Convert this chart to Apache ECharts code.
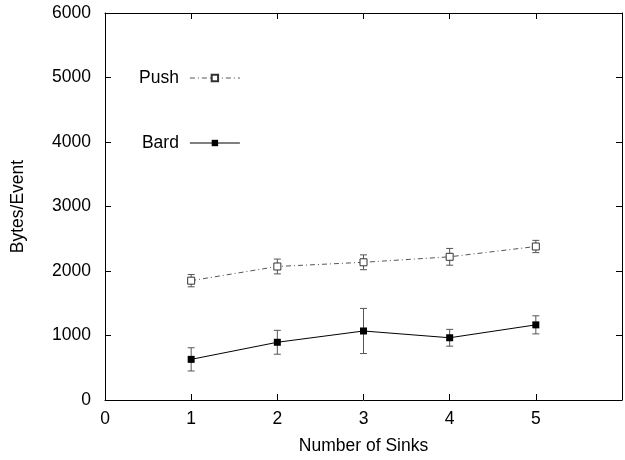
<!DOCTYPE html>
<html>
<head>
<meta charset="utf-8">
<script src="https://cdn.jsdelivr.net/npm/echarts@6/dist/echarts.min.js"></script>
<style>html,body{margin:0;padding:0;background:#fff}#c{width:625px;height:460px}</style>
</head>
<body>
<div id="c"></div>
<script>
const sinks = [1, 2, 3, 4, 5];
const pushMean = [1850, 2070, 2135, 2220, 2380];
const pushErr = [95, 115, 115, 130, 95];
const bardMean = [630, 895, 1070, 965, 1165];
const bardErr = [180, 185, 350, 130, 140];
const xTicks = [0, 1, 2, 3, 4, 5, 6];
const yTicks = [0, 1000, 2000, 3000, 4000, 5000, 6000];

const FONT = '"Liberation Sans", Arial, Helvetica, sans-serif';
const FS = 17.5;

function errData(mean, err) {
  return sinks.map((x, i) => [x, mean[i] - err[i], mean[i] + err[i]]);
}
function errRender(params, api) {
  const x = api.value(0);
  const lo = api.coord([x, api.value(1)]);
  const hi = api.coord([x, api.value(2)]);
  const cap = 3.5;
  const style = { stroke: '#555', lineWidth: 1, fill: null };
  return {
    type: 'group',
    children: [
      { type: 'line', shape: { x1: lo[0], y1: lo[1], x2: hi[0], y2: hi[1] }, style },
      { type: 'line', shape: { x1: lo[0] - cap, y1: lo[1], x2: lo[0] + cap, y2: lo[1] }, style },
      { type: 'line', shape: { x1: hi[0] - cap, y1: hi[1], x2: hi[0] + cap, y2: hi[1] }, style }
    ]
  };
}

const axisCommon = {
  axisLine: { show: true, onZero: false, lineStyle: { color: '#000', width: 1 } },
  axisTick: { show: true, inside: true, length: 6, lineStyle: { color: '#000', width: 1 } },
  splitLine: { show: false }
};

const chart = echarts.init(document.getElementById('c'), null, { renderer: 'canvas' });
chart.setOption({
  animation: false,
  backgroundColor: '#fff',
  textStyle: { fontFamily: FONT },
  grid: { left: 105, right: 0, top: 13, bottom: 60, show: false },
  legend: {
    orient: 'vertical',
    left: 134,
    top: 63,
    align: 'right',
    itemWidth: 50,
    itemHeight: 8,
    itemGap: 45,
    data: ['Push', 'Bard'],
    lineStyle: { width: 1 },
    textStyle: { fontFamily: FONT, fontSize: FS, color: '#000', padding: [0, 6, 0, 0], lineHeight: 20 }
  },
  xAxis: [
    Object.assign({}, axisCommon, {
      type: 'value', min: 0, max: 6, interval: 1, position: 'bottom',
      name: 'Number of Sinks', nameLocation: 'middle', nameGap: 37,
      nameTextStyle: { fontFamily: FONT, fontSize: FS, color: '#000' },
      axisLabel: { fontFamily: FONT, fontSize: FS, color: '#000', margin: 10,
        formatter: v => (xTicks.indexOf(v) >= 0 && v < 6 ? String(v) : '') }
    }),
    Object.assign({}, axisCommon, {
      type: 'value', min: 0, max: 6, interval: 1, position: 'top',
      axisLabel: { show: false }
    })
  ],
  yAxis: [
    Object.assign({}, axisCommon, {
      type: 'value', min: 0, max: 6000, interval: 1000, position: 'left',
      name: 'Bytes/Event', nameLocation: 'middle', nameGap: 78, nameRotate: 90,
      nameTextStyle: { fontFamily: FONT, fontSize: FS, color: '#000' },
      axisLabel: { fontFamily: FONT, fontSize: FS, color: '#000', margin: 14,
        formatter: v => (yTicks.indexOf(v) >= 0 ? String(v) : '') }
    }),
    Object.assign({}, axisCommon, {
      type: 'value', min: 0, max: 6000, interval: 1000, position: 'right',
      axisLabel: { show: false }
    })
  ],
  series: [
    {
      type: 'custom', name: 'PushErr', renderItem: errRender,
      data: errData(pushMean, pushErr), z: 1, silent: true
    },
    {
      type: 'custom', name: 'BardErr', renderItem: errRender,
      data: errData(bardMean, bardErr), z: 1, silent: true
    },
    {
      type: 'line', name: 'Push', z: 3,
      data: sinks.map((x, i) => [x, pushMean[i]]),
      symbol: 'rect', symbolSize: 7,
      lineStyle: { color: '#555', width: 1, type: [5, 3, 1, 3] },
      itemStyle: { color: '#fff', borderColor: '#333', borderWidth: 1 },
      emphasis: { disabled: true }
    },
    {
      type: 'line', name: 'Bard', z: 3,
      data: sinks.map((x, i) => [x, bardMean[i]]),
      symbol: 'rect', symbolSize: 7,
      lineStyle: { color: '#000', width: 1, type: 'solid' },
      itemStyle: { color: '#000' },
      emphasis: { disabled: true }
    }
  ]
});
</script>
</body>
</html>
